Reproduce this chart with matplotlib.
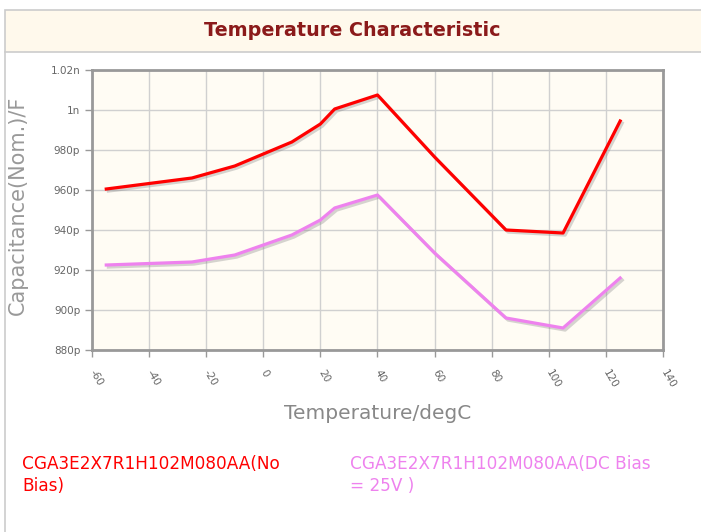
import matplotlib.pyplot as plt
import matplotlib.patheffects as pe
from matplotlib.patches import Rectangle
from matplotlib.lines import Line2D

# data (capacitance in pF)
temps = [-55, -25, -10, 0, 10, 20, 25, 40, 60, 85, 105, 125]
no_bias = [960.5, 966.0, 972.0, 978.0, 984.0, 993.0, 1000.5, 1007.5, 976.5, 940.0, 938.5, 994.5]
dc_bias = [922.5, 924.0, 927.5, 932.5, 937.5, 945.0, 951.0, 957.5, 928.5, 896.0, 891.0, 916.0]
x_ticks = [-60, -40, -20, 0, 20, 40, 60, 80, 100, 120, 140]
y_ticks = [880, 900, 920, 940, 960, 980, 1000, 1020]
y_labels = ['880p', '900p', '920p', '940p', '960p', '980p', '1n', '1.02n']
series_names = ['CGA3E2X7R1H102M080AA(No\nBias)',
                'CGA3E2X7R1H102M080AA(DC Bias\n= 25V )']
colors = ['#ff0000', '#ee82ee']

fig = plt.figure(figsize=(7.01, 5.32), dpi=100)
W, H = 701, 532

# title panel and outer border
fig.patches.append(Rectangle((5 / W, 1 - 52 / H), 1, 42 / H, transform=fig.transFigure,
                             facecolor='#fff9ec', edgecolor='#cccccc', lw=1.2))
fig.lines.append(Line2D([5 / W, 5 / W], [0, 1 - 52 / H], transform=fig.transFigure,
                        color='#cccccc', lw=1.2))
fig.text(352 / W, 1 - 31 / H, 'Temperature Characteristic', ha='center', va='center',
         fontsize=13.8, fontweight='bold', color='#8b1a1a')

ax = fig.add_axes([92 / W, 1 - 350 / H, 571 / W, 280 / H])
ax.set_facecolor('#fffcf4')

shadow = [pe.SimpleLineShadow(offset=(1.5, -1.5), shadow_color='#888888', alpha=0.35),
          pe.Normal()]
for vals, c in zip([no_bias, dc_bias], colors):
    ax.plot(temps, vals, color=c, lw=2.3, solid_joinstyle='round',
            path_effects=shadow, zorder=3)

ax.set_xlim(-60, 140)
ax.set_ylim(880, 1020)
ax.set_xticks(x_ticks)
ax.set_xticklabels([str(t) for t in x_ticks], rotation=-60, rotation_mode='anchor',
                   ha='left', va='center')
ax.set_yticks(y_ticks)
ax.set_yticklabels(y_labels)
ax.tick_params(colors='#999999', labelcolor='#666666', labelsize=7.5, length=5, width=1)
ax.tick_params(axis='x', pad=10)
ax.grid(True, color='#d0d0d0', lw=1)
ax.set_axisbelow(True)
for s in ax.spines.values():
    s.set_color('#999999')
    s.set_linewidth(2)

ax.set_xlabel('Temperature/degC', fontsize=14.5, color='#888888', labelpad=10)
fig.text(18 / W, 1 - 205 / H, 'Capacitance(Nom.)/F', rotation=90, ha='center', va='center',
         fontsize=15, color='#999999')

# legend as coloured text
for name, c, xp in zip(series_names, colors, [22, 350]):
    fig.text(xp / W, 1 - 455 / H, name, ha='left', va='top', fontsize=12.2, color=c,
             linespacing=1.3)

fig.savefig('out.png', dpi=100)
